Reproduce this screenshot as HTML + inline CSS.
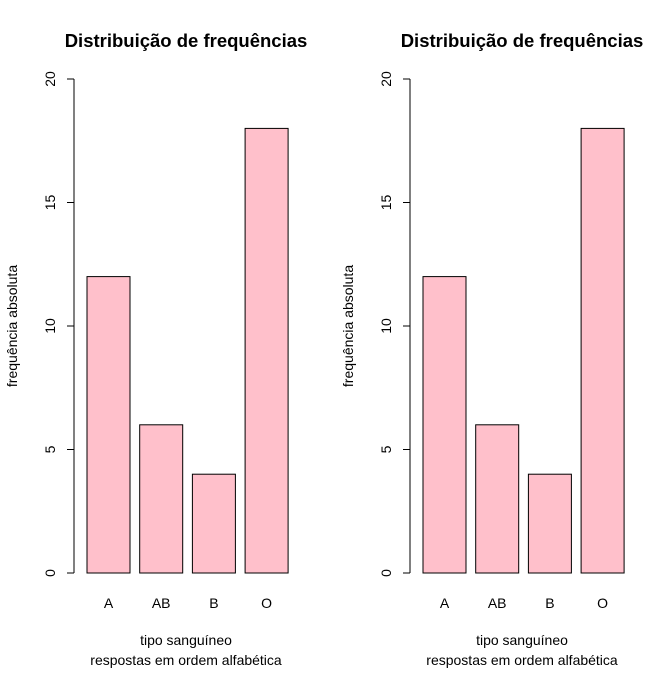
<!DOCTYPE html>
<html><head><meta charset="utf-8"><style>
body{margin:0;background:#fff}
svg{display:block;font-family:"Liberation Sans",Arial,sans-serif}
</style></head><body>
<svg id="c" width="665" height="681" viewBox="0 0 665 681"></svg>
<script>
const categories=["A","AB","B","O"];
const counts=[12,6,4,18];
const yTicks=[0,5,10,15,20];
const panelOffsets=[0,336];
const NS="http://www.w3.org/2000/svg";
const svg=document.getElementById('c');
function y(v){return 573-v*(573-79)/20;}
function mk(t,a,txt){const e=document.createElementNS(NS,t);for(const k in a)e.setAttribute(k,a[k]);if(txt!==undefined)e.textContent=txt;svg.appendChild(e);return e;}
panelOffsets.forEach((off,p)=>{
  const bx=i=>off+87+i*52.7;
  let t=mk('text',{x:off+186,y:47,'text-anchor':'middle','font-size':18.5,'font-weight':'bold'},'Distribuição de frequências');
  
  
  let ax=mk('line',{x1:off+74,x2:off+74,y1:y(0),y2:y(20),stroke:'#000'});
  
  
  yTicks.forEach(v=>{
    let tk=mk('line',{x1:off+67,x2:off+74,y1:y(v),y2:y(v),stroke:'#000'});
    
    
    let l=mk('text',{x:off+55,y:y(v),'text-anchor':'middle','font-size':14,transform:`rotate(-90 ${off+55} ${y(v)})`},String(v));
    
    
  });
  counts.forEach((v,i)=>{
    let r=mk('rect',{x:bx(i),y:y(v),width:43,height:y(0)-y(v),fill:'#ffc0cb',stroke:'#000','stroke-width':1});
    
    
    let l=mk('text',{x:bx(i)+21.5,y:608,'text-anchor':'middle','font-size':14},categories[i]);
    
    
  });
  let yt=mk('text',{x:17,y:326,'text-anchor':'middle','font-size':14,transform:`translate(${off} 0) rotate(-90 17 326)`},'frequência absoluta');
  
  
  let x1=mk('text',{x:off+186,y:645,'text-anchor':'middle','font-size':14},'tipo sanguíneo');
  
  
  let x2=mk('text',{x:off+186,y:665,'text-anchor':'middle','font-size':14},'respostas em ordem alfabética');
  
  
});
</script>
</body></html>
